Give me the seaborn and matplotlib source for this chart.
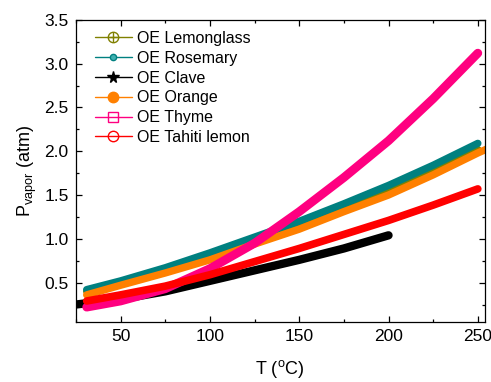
import numpy as np
import pandas as pd
import matplotlib.pyplot as plt
import seaborn as sns
from matplotlib.lines import Line2D
from matplotlib.ticker import MultipleLocator

# valores (T em C, P em atm)
t_std = [31, 50, 75, 100, 125, 150, 175, 200, 225, 250]
p_lemongrass = [0.40, 0.50, 0.64, 0.80, 0.98, 1.16, 1.35, 1.56, 1.78, 2.02]
p_rosemary = [0.42, 0.52, 0.67, 0.84, 1.02, 1.20, 1.40, 1.61, 1.84, 2.09]
t_clove = [20, 25, 50, 75, 100, 125, 150, 175, 200]
p_clove = [0.24, 0.25, 0.31, 0.40, 0.52, 0.64, 0.76, 0.89, 1.04]
t_orange = [31, 50, 75, 100, 125, 150, 175, 200, 225, 250, 260]
p_orange = [0.36, 0.47, 0.61, 0.76, 0.94, 1.11, 1.31, 1.50, 1.73, 1.98, 2.07]
p_thyme = [0.22, 0.29, 0.43, 0.66, 0.95, 1.31, 1.70, 2.12, 2.60, 3.12]
p_tahiti = [0.29, 0.36, 0.46, 0.59, 0.74, 0.89, 1.05, 1.21, 1.385, 1.57]

labels = ["OE Lemonglass", "OE Rosemary", "OE Clave", "OE Orange", "OE Thyme", "OE Tahiti lemon"]
colors = ["#808000", "#008080", "#000000", "#FF8000", "#FF0080", "#FF0000"]
series = [(t_std, p_lemongrass), (t_std, p_rosemary), (t_clove, p_clove),
          (t_orange, p_orange), (t_std, p_thyme), (t_std, p_tahiti)]
widths = [5.3, 5.3, 6.0, 5.3, 6.3, 5.5]

sns.set_style("ticks")
plt.rcParams["font.family"] = ["Liberation Sans", "DejaVu Sans"]
plt.rcParams["mathtext.fontset"] = "custom"
plt.rcParams["mathtext.rm"] = "Liberation Sans"
plt.rcParams["mathtext.it"] = "Liberation Sans"
for k in ["text.color", "axes.labelcolor", "xtick.color", "ytick.color", "axes.edgecolor"]:
    plt.rcParams[k] = "black"

fig = plt.figure(figsize=(4.91, 3.82), dpi=100)
ax = fig.add_axes([0.154, 0.157, 0.833, 0.791])

for (t, p), c, lw in zip(series, colors, widths):
    df = pd.DataFrame({"T": t, "P": p})
    sns.lineplot(data=df, x="T", y="P", color=c, linewidth=lw, ax=ax,
                 estimator=None, sort=False, solid_capstyle="round")

ax.set_xlim(24.8, 253.8)
ax.set_ylim(0.05, 3.5)
ax.xaxis.set_major_locator(MultipleLocator(50))
ax.xaxis.set_minor_locator(MultipleLocator(25))
ax.set_yticks([0.5, 1.0, 1.5, 2.0, 2.5, 3.0, 3.5])
ax.yaxis.set_minor_locator(MultipleLocator(0.25))
ax.tick_params(which="both", direction="in", top=True, right=True, labelsize=12.5, width=0.9)
ax.tick_params(which="major", length=4.5, pad=5)
ax.tick_params(which="minor", length=2.5)
for s in ax.spines.values():
    s.set_linewidth(0.9)

ax.set_xlabel(r"T ($^{\rm o}$C)", fontsize=13, labelpad=10)
ax.set_ylabel(r"P$_{\rm vapor}$ (atm)", fontsize=13, labelpad=4)

h_lemon = (Line2D([], [], color=colors[0], lw=1, marker="o", ms=7.5, mfc="none", mec=colors[0], mew=1),
           Line2D([], [], color=colors[0], lw=0, marker="+", ms=7.5, mec=colors[0], mew=1))
handles = [
    h_lemon,
    Line2D([], [], color=colors[1], lw=1, marker="o", ms=4.5, mfc="#40b0b0", mec=colors[1]),
    Line2D([], [], color=colors[2], lw=1, marker="*", ms=8.5, mfc="black", mec="black"),
    Line2D([], [], color=colors[3], lw=1, marker="o", ms=7.5, mfc=colors[3], mec=colors[3]),
    Line2D([], [], color=colors[4], lw=1, marker="s", ms=7, mfc="none", mec=colors[4]),
    Line2D([], [], color=colors[5], lw=1, marker="o", ms=7.5, mfc="none", mec=colors[5]),
]
leg = ax.legend(handles, labels, loc="upper left", bbox_to_anchor=(0.02, 1.0), frameon=False,
                fontsize=11.5, handlelength=2.3, handletextpad=0.3, labelspacing=0.3, borderpad=0.2)

fig.savefig("out.png", dpi=100)
